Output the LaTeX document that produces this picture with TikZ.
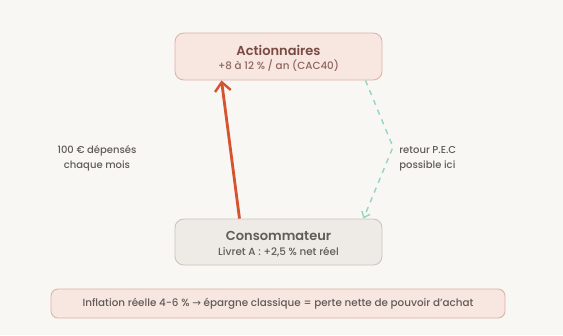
\documentclass[tikz,border=0pt]{standalone}
\usepackage{fontspec}
\setmainfont{Poppins}[UprightFont={* Medium}, BoldFont={* SemiBold}]
\newfontfamily\symfont{DejaVu Sans}
\usetikzlibrary{arrows.meta}
\definecolor{fond}{HTML}{F9F7F3}
\definecolor{rosefill}{HTML}{F8E6E1}
\definecolor{roseline}{HTML}{DDB2A8}
\definecolor{grisfill}{HTML}{EEEBE6}
\definecolor{grisline}{HTML}{C9C5BF}
\definecolor{brun}{HTML}{7A4B42}
\definecolor{texte}{HTML}{5F5C59}
\definecolor{rouge}{HTML}{D5532E}
\definecolor{menthe}{HTML}{93D5C3}
\begin{document}
\begin{tikzpicture}[x=0.02cm, y=-0.02cm,
  every node/.style = {align=center, inner sep=0pt, text=texte},
  boite/.style = {shape=rectangle, rounded corners=5pt, draw, line width=0.5pt},
  titre/.style = {font=\fontsize{7.4}{9}\selectfont\bfseries},
  sous/.style = {font=\fontsize{5.9}{8}\selectfont},
  note/.style = {font=\fontsize{5.7}{8.6}\selectfont}]
  \fill[fond] (0,0) rectangle (563,335);
  \useasboundingbox (0,0) rectangle (563,335);
  \node[boite, fill=rosefill, draw=roseline, minimum width=207*0.02cm, minimum height=47*0.02cm]
    (act) at (278.5,56.5) {};
  \node[titre, text=brun] (acttitre) at (278.5,50) {Actionnaires};
  \node[sous, text=brun!85] (actsous) at (278.5,66) {+8 à 12 \% / an (CAC40)};
  \node[boite, fill=grisfill, draw=grisline, minimum width=207*0.02cm, minimum height=46*0.02cm]
    (cons) at (278.5,242) {};
  \node[titre] (constitre) at (278.5,236) {Consommateur};
  \node[sous] (conssous) at (278.5,252) {Livret A : +2,5 \% net réel};
  \node[boite, fill=rosefill, draw=roseline, rounded corners=4pt, minimum width=454*0.02cm, minimum height=29*0.02cm]
    (inflation) at (278,303.5) {};
  \node[sous] (inftexte) at (278,303.5) {Inflation réelle 4-6 \% {\symfont →} épargne classique = perte nette de pouvoir d'achat};
  \node[note] (depense) at (97,158) {100 € dépensés\\chaque mois};
  \node[note, align=left, anchor=west] (retour) at (399,159) {retour P.E.C\\possible ici};
  % flux
  \draw[rouge, line width=1.6pt, -{Straight Barb[length=5pt, width=9pt, line width=1.4pt]}]
    ([xshift=-39*0.02cm]cons.north) -- ([xshift=-57*0.02cm]act.south);
  \coordinate (coude) at (393,147);
  \draw[menthe, line width=0.8pt, dashed, -{Straight Barb[length=3pt, width=5pt]}]
    ([xshift=87*0.02cm]act.south) -- (coude) -- ([xshift=85*0.02cm]cons.north);
\end{tikzpicture}
\end{document}
